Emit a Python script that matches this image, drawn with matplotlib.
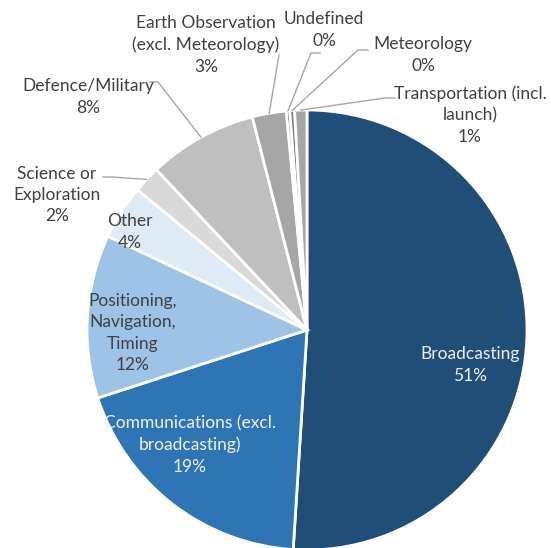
import numpy as np
import matplotlib
matplotlib.use("Agg")
import matplotlib.pyplot as plt

plt.rcParams['font.family'] = ['Lato', 'DejaVu Sans']

labels = ['Broadcasting', 'Communications (excl.\nbroadcasting)', 'Positioning,\nNavigation,\nTiming',
          'Other', 'Science or\nExploration', 'Defence/Military', 'Earth Observation\n(excl. Meteorology)',
          'Undefined', 'Meteorology', 'Transportation (incl.\nlaunch)']
values = [51.0, 19.0, 12.0, 4.0, 2.0, 8.0, 2.5, 0.25, 0.35, 0.9]
shown = ['51%', '19%', '12%', '4%', '2%', '8%', '3%', '0%', '0%', '1%']
colors = ['#1F4E79', '#2E75B6', '#9DC3E6', '#DEEBF7', '#D9D9D9', '#BFBFBF', '#A6A6A6',
          '#595959', '#7F7F7F', '#A6A6A6']

# label placement (pixels in the 551x548 image)
inside = [True, True, True, True, False, False, False, False, False, False]
label_px = [(470, 365), (190, 445), (133, 333), (130, 232), (57, 195), (88, 97),
            (206, 45), (324, 30), (423, 55), (470, 115)]
# where the leader line leaves the label: (start x, end of horizontal bit x, y)
leader_px = [None, None, None, None, (103, 112, 177), (150, 158, 82), (279, 279, 55),
             (320, 311, 53), (368, 358, 50), (395, 385, 98)]
text_dark = '#404040'
text_col = ['#F2F2F2', '#F2F2F2'] + [text_dark] * 8

W, H = 551, 548
cx, cy, R = 307, 330, 220

fig = plt.figure(figsize=(5.51, 5.48), dpi=100)
ax = fig.add_axes([0, 0, 1, 1])

wedges, _ = ax.pie(values, colors=colors, startangle=90, counterclock=False, radius=1,
                   wedgeprops=dict(edgecolor='white', linewidth=2))
ax.set_xlim(-cx / R, (W - cx) / R)
ax.set_ylim(-(H - cy) / R, cy / R)
ax.axis('off')


def px(x, y):
    return ((x - cx) / R, (cy - y) / R)


for i, w in enumerate(wedges):
    tx, ty = px(*label_px[i])
    ax.text(tx, ty, labels[i] + '\n' + shown[i], ha='center', va='center', fontsize=12.5,
            color=text_col[i], linespacing=1.42)
    if not inside[i]:
        mid = np.deg2rad((w.theta1 + w.theta2) / 2)
        x0, y0 = px(leader_px[i][0], leader_px[i][2])
        x1, y1 = px(leader_px[i][1], leader_px[i][2])
        ax.plot([x0, x1, np.cos(mid)], [y0, y1, np.sin(mid)], color='#A6A6A6', lw=1)

fig.savefig('out.png', dpi=100)
